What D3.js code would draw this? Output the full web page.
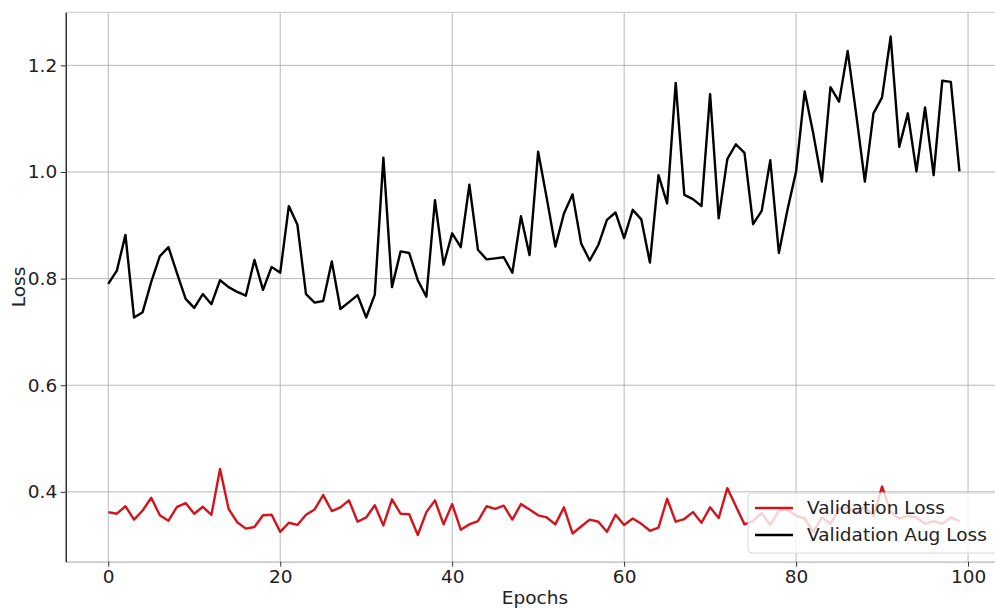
<!DOCTYPE html>
<html>
<head>
<meta charset="utf-8">
<script src="https://cdn.jsdelivr.net/npm/d3@7"></script>
<style>
  body { margin: 0; background: #fff; }
  svg { display: block; font-family: "DejaVu Sans", sans-serif; }
</style>
</head>
<body>
<script>
// Validation loss vs augmented validation loss, per epoch

const epochs = d3.range(0, 100);

const valLoss = [
  0.362, 0.359, 0.373, 0.348, 0.365, 0.389, 0.356, 0.346, 0.372, 0.379,
  0.359, 0.372, 0.357, 0.443, 0.368, 0.343, 0.331, 0.334, 0.356, 0.357,
  0.325, 0.342, 0.338, 0.357, 0.367, 0.394, 0.364, 0.371, 0.384, 0.344,
  0.352, 0.375, 0.337, 0.386, 0.359, 0.358, 0.319, 0.362, 0.384, 0.339,
  0.377, 0.329, 0.339, 0.345, 0.373, 0.368, 0.374, 0.348, 0.377, 0.367,
  0.356, 0.352, 0.339, 0.371, 0.322, 0.335, 0.348, 0.344, 0.325, 0.357,
  0.338, 0.350, 0.340, 0.327, 0.333, 0.387, 0.344, 0.349, 0.362, 0.342,
  0.371, 0.351, 0.407, 0.373, 0.339, 0.345, 0.360, 0.338, 0.365, 0.367,
  0.355, 0.350, 0.325, 0.352, 0.340, 0.368, 0.370, 0.360, 0.372, 0.355,
  0.410, 0.363, 0.350, 0.355, 0.352, 0.340, 0.345, 0.340, 0.352, 0.345
];

const valAugLoss = [
  0.790, 0.815, 0.882, 0.727, 0.737, 0.794, 0.842, 0.859, 0.810, 0.762,
  0.745, 0.771, 0.752, 0.797, 0.784, 0.775, 0.768, 0.835, 0.779, 0.822,
  0.811, 0.936, 0.901, 0.771, 0.755, 0.758, 0.832, 0.743, 0.756, 0.769,
  0.727, 0.770, 1.027, 0.784, 0.851, 0.848, 0.797, 0.766, 0.947, 0.826,
  0.885, 0.859, 0.976, 0.854, 0.836, 0.838, 0.840, 0.811, 0.917, 0.844,
  1.038, 0.951, 0.860, 0.922, 0.958, 0.866, 0.834, 0.863, 0.910, 0.924,
  0.876, 0.929, 0.911, 0.830, 0.994, 0.941, 1.167, 0.957, 0.949, 0.936,
  1.146, 0.913, 1.024, 1.052, 1.036, 0.902, 0.927, 1.022, 0.848, 0.929,
  1.001, 1.151, 1.072, 0.982, 1.159, 1.132, 1.227, 1.107, 0.982, 1.110,
  1.140, 1.254, 1.047, 1.110, 1.001, 1.121, 0.994, 1.171, 1.169, 1.001
];

const xTicks = [0, 20, 40, 60, 80, 100];
const yTicks = [0.4, 0.6, 0.8, 1.0, 1.2];

const seriesNames = ["Validation Loss", "Validation Aug Loss"];
const seriesColors = ["#d4141c", "#000000"];

const W = 995, H = 608;
const plotL = 65.7, plotR = 1002, plotT = 12.3, plotB = 561.7;
const fs = 18.5;

const svg = d3.select("body").append("svg")
  .attr("width", W)
  .attr("height", H);

const x = d3.scaleLinear().domain([-4.95, 103.95]).range([plotL, plotR]);
const y = d3.scaleLinear().domain([0.269, 1.2995]).range([plotB, plotT]);

// grid
svg.append("g")
  .selectAll("line")
  .data(xTicks)
  .enter().append("line")
  .attr("x1", d => x(d)).attr("x2", d => x(d))
  .attr("y1", plotT).attr("y2", plotB)
  .attr("stroke", "#b0b0b0").attr("stroke-width", 0.9);

svg.append("g")
  .selectAll("line")
  .data(yTicks)
  .enter().append("line")
  .attr("x1", plotL).attr("x2", plotR)
  .attr("y1", d => y(d)).attr("y2", d => y(d))
  .attr("stroke", "#b0b0b0").attr("stroke-width", 0.9);

// top spine is grey
svg.append("line")
  .attr("x1", plotL).attr("x2", plotR).attr("y1", plotT).attr("y2", plotT)
  .attr("stroke", "#c8c8c8").attr("stroke-width", 1);

// lines
const line = d3.line()
  .x((d, i) => x(epochs[i]))
  .y(d => y(d));

[valLoss, valAugLoss].forEach((s, k) => {
  svg.append("path")
    .datum(s)
    .attr("d", line)
    .attr("fill", "none")
    .attr("stroke", seriesColors[k])
    .attr("stroke-width", 2.4)
    .attr("stroke-linejoin", "round");
});

// axes
const xAxis = svg.append("g")
  .attr("transform", `translate(0,${plotB})`)
  .call(d3.axisBottom(x).tickValues(xTicks).tickFormat(d3.format("d"))
    .tickSizeInner(5).tickSizeOuter(0).tickPadding(3.5));
xAxis.select(".domain").attr("stroke", "#b8b8b8").attr("stroke-width", 1.2);

const yAxis = svg.append("g")
  .attr("transform", `translate(${plotL},0)`)
  .call(d3.axisLeft(y).tickValues(yTicks).tickFormat(d3.format(".1f"))
    .tickSizeInner(5).tickSizeOuter(0).tickPadding(3.5));
yAxis.select(".domain").attr("stroke", "#000").attr("stroke-width", 1.2);

svg.selectAll(".tick text")
  .attr("font-size", fs)
  .attr("font-family", "DejaVu Sans, sans-serif")
  .attr("fill", "#222");
svg.selectAll(".tick line").attr("stroke", "#333");

// axis titles
svg.append("text")
  .attr("x", 535).attr("y", 603.5)
  .attr("text-anchor", "middle")
  .attr("font-size", fs)
  .attr("fill", "#222")
  .text("Epochs");

svg.append("text")
  .attr("transform", `translate(25,${(plotT + plotB) / 2}) rotate(-90)`)
  .attr("text-anchor", "middle")
  .attr("font-size", fs)
  .attr("fill", "#222")
  .text("Loss");

// legend
const lg = svg.append("g").attr("transform", "translate(748,493)");
lg.append("rect")
  .attr("width", 262).attr("height", 60)
  .attr("rx", 4)
  .attr("fill", "#fff").attr("fill-opacity", 0.8)
  .attr("stroke", "#d8d8d8");

seriesNames.forEach((name, k) => {
  const row = lg.append("g").attr("transform", `translate(0,${15 + k * 27})`);
  row.append("line")
    .attr("x1", 7).attr("x2", 45)
    .attr("stroke", seriesColors[k]).attr("stroke-width", 2.4);
  row.append("text")
    .attr("x", 59).attr("dy", "0.35em")
    .attr("font-size", fs)
    .attr("fill", "#222")
    .text(name);
});
</script>
</body>
</html>
